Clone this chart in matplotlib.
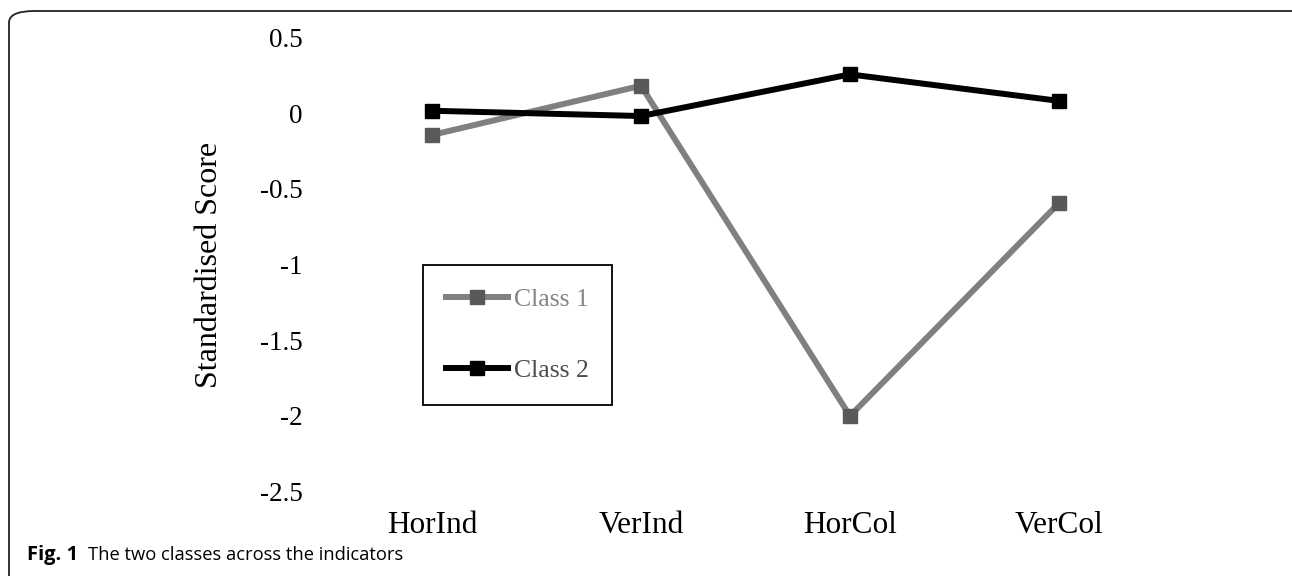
import matplotlib
matplotlib.use('Agg')
import matplotlib.pyplot as plt
from matplotlib.patches import FancyBboxPatch

indicators = ['HorInd', 'VerInd', 'HorCol', 'VerCol']
class1 = [-0.145, 0.18, -2.0, -0.595]
class2 = [0.015, -0.02, 0.255, 0.08]
yticks = [0.5, 0, -0.5, -1, -1.5, -2, -2.5]
ytick_labels = ['0.5', '0', '-0.5', '-1', '-1.5', '-2', '-2.5']

plt.rcParams['font.family'] = ['Liberation Serif', 'DejaVu Serif']

fig = plt.figure(figsize=(12.92, 5.76), dpi=100)
ax = fig.add_axes([0.2535, 0.1463, 0.647, 0.789])

x = range(len(indicators))
ax.plot(x, class1, color='#808080', lw=4.3, marker='s', markersize=10,
        markerfacecolor='#595959', markeredgecolor='#595959', label='Class 1',
        solid_joinstyle='miter')
ax.plot(x, class2, color='#000000', lw=4.3, marker='s', markersize=10,
        markerfacecolor='#000000', markeredgecolor='#000000', label='Class 2',
        solid_joinstyle='miter')

ax.set_xlim(-0.5, 3.5)
ax.set_ylim(-2.5, 0.5)
ax.set_xticks(list(x))
ax.set_xticklabels(indicators, fontsize=22.5)
ax.set_yticks(yticks)
ax.set_yticklabels(ytick_labels, fontsize=19.5)
ax.tick_params(axis='both', length=0)
ax.tick_params(axis='y', pad=18)
ax.tick_params(axis='x', pad=14)
for s in ax.spines.values():
    s.set_visible(False)

ax.set_ylabel('Standardised Score', fontsize=23)
ax.yaxis.set_label_coords(-0.141, 0.5)
ax.yaxis.label.set_va('center')

leg = ax.legend(loc='upper left', bbox_to_anchor=(423 / 1292, 1 - 265 / 576),
                bbox_transform=fig.transFigure, borderaxespad=0, fontsize=18.5,
                fancybox=False, edgecolor='black', framealpha=1,
                handlelength=2.4, handletextpad=0.25, labelspacing=1.85,
                borderpad=0.9)
leg.get_frame().set_linewidth(1.3)
leg.get_texts()[0].set_color('#858585')
leg.get_texts()[1].set_color('#4d4d4d')

# rounded frame around the figure panel
frame = FancyBboxPatch((9 / 1292, -0.1), 1.2, 1 - 11 / 576 + 0.1,
                       boxstyle='round,pad=0,rounding_size=0.02',
                       transform=fig.transFigure, fill=False,
                       edgecolor='#222222', lw=1.3, clip_on=False)
fig.patches.append(frame)

fig.text(27 / 1292, 1 - 555 / 576, 'Fig. 1', fontsize=14.5, fontweight='bold',
         family='Open Sans', va='center', ha='left')
fig.text(88 / 1292, 1 - 555 / 576, 'The two classes across the indicators',
         fontsize=13.2, family='Open Sans', va='center', ha='left')

fig.savefig('out.png', dpi=100)
